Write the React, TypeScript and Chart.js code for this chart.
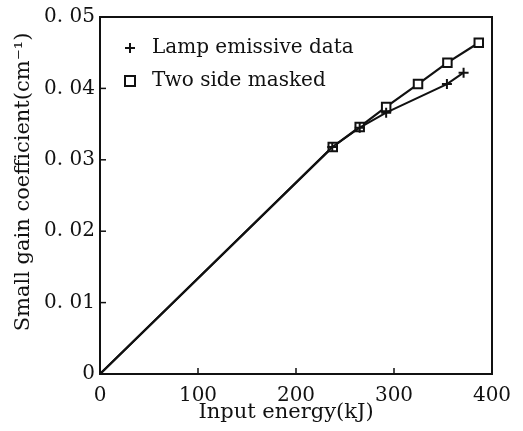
import React, { useEffect, useRef } from "react";
import { Chart, registerables } from "chart.js";

Chart.register(...registerables);

const lampX = [0, 237, 265, 292, 354, 371];
const lampY = [0, 0.0318, 0.0345, 0.0366, 0.0406, 0.0422];
const maskedX = [0, 237.5, 265, 292, 324.5, 354.5, 386.5];
const maskedY = [0, 0.0318, 0.0346, 0.0374, 0.0406, 0.0436, 0.0464];

const xTicks = [0, 100, 200, 300, 400];
const yTicks = [0, 0.01, 0.02, 0.03, 0.04, 0.05];

const legendLabels = ["Lamp emissive data", "Two side masked"];
const xTitle = "Input energy(kJ)";
const yTitle = "Small gain coefficient(cm\u207B\u00B9)";

const FONT = "'DejaVu Serif', serif";

const decorPlugin = {
  id: "decor",
  afterDraw(chart: any) {
    const { ctx, chartArea } = chart;
    const xs = chart.scales.x;
    const ys = chart.scales.y;
    ctx.save();
    ctx.strokeStyle = "#111";
    ctx.lineWidth = 2;
    ctx.strokeRect(chartArea.left, chartArea.top, chartArea.right - chartArea.left, chartArea.bottom - chartArea.top);
    ctx.lineWidth = 1.5;
    xTicks.forEach((v) => {
      const px = xs.getPixelForValue(v);
      ctx.beginPath();
      ctx.moveTo(px, chartArea.bottom);
      ctx.lineTo(px, chartArea.bottom - 6);
      ctx.stroke();
    });
    yTicks.forEach((v) => {
      const py = ys.getPixelForValue(v);
      ctx.beginPath();
      ctx.moveTo(chartArea.left, py);
      ctx.lineTo(chartArea.left + 6, py);
      ctx.stroke();
    });
    // legend
    const lx = chartArea.left + 30;
    const ly1 = chartArea.top + 31;
    const ly2 = chartArea.top + 64;
    ctx.lineWidth = 2;
    ctx.beginPath();
    ctx.moveTo(lx - 5, ly1);
    ctx.lineTo(lx + 5, ly1);
    ctx.moveTo(lx, ly1 - 5);
    ctx.lineTo(lx, ly1 + 5);
    ctx.stroke();
    ctx.strokeRect(lx - 5, ly2 - 5, 10, 10);
    ctx.fillStyle = "#111";
    ctx.font = `20px ${FONT}`;
    ctx.textAlign = "left";
    ctx.textBaseline = "middle";
    ctx.fillText(legendLabels[0], lx + 22, ly1);
    ctx.fillText(legendLabels[1], lx + 22, ly2);
    // titles
    ctx.font = `21px ${FONT}`;
    ctx.textAlign = "center";
    ctx.fillText(xTitle, chartArea.left + 186, chartArea.bottom + 39);
    ctx.translate(chartArea.left - 76, chartArea.top + 165);
    ctx.rotate(-Math.PI / 2);
    ctx.fillText(yTitle, 0, 0);
    ctx.restore();
  },
};

export default function App() {
  const ref = useRef<HTMLCanvasElement>(null);
  useEffect(() => {
    const chart = new Chart(ref.current!, {
      type: "scatter",
      data: {
        datasets: [
          {
            label: legendLabels[0],
            data: lampX.map((x, i) => ({ x, y: lampY[i] })),
            showLine: true,
            borderColor: "#111",
            borderWidth: 2,
            pointStyle: "cross",
            pointRadius: lampX.map((x) => (x === 0 ? 0 : 5)),
            pointBorderWidth: 2,
            pointBorderColor: "#111",
          },
          {
            label: legendLabels[1],
            data: maskedX.map((x, i) => ({ x, y: maskedY[i] })),
            showLine: true,
            borderColor: "#111",
            borderWidth: 2.2,
            pointStyle: "rect",
            pointRadius: maskedX.map((x) => (x === 0 ? 0 : 6)),
            pointBorderWidth: 2,
            pointBorderColor: "#111",
            pointBackgroundColor: "#fff",
          },
        ],
      },
      options: {
        animation: false,
        responsive: true,
        maintainAspectRatio: false,
        layout: { padding: { top: 16, right: 31, left: 0, bottom: 0 } },
        plugins: { legend: { display: false }, tooltip: { enabled: false } },
        scales: {
          x: {
            type: "linear",
            min: 0,
            max: 400,
            afterBuildTicks: (s: any) => {
              s.ticks = xTicks.map((v) => ({ value: v }));
            },
            afterFit: (s: any) => {
              s.height = 57;
            },
            grid: { display: false, drawTicks: false },
            border: { display: false },
            ticks: {
              color: "#111",
              font: { family: FONT, size: 20 },
              padding: 10,
              maxRotation: 0,
              callback: (v: any) => String(v),
            },
          },
          y: {
            type: "linear",
            min: 0,
            max: 0.05,
            afterBuildTicks: (s: any) => {
              s.ticks = yTicks.map((v) => ({ value: v }));
            },
            afterFit: (s: any) => {
              s.width = 100;
            },
            grid: { display: false, drawTicks: false },
            border: { display: false },
            ticks: {
              color: "#111",
              font: { family: FONT, size: 20 },
              padding: 5,
              callback: (v: any) => (v === 0 ? "0" : Number(v).toFixed(2).replace(".", ". ")),
            },
          },
        },
      },
      plugins: [decorPlugin],
    } as any);
    return () => chart.destroy();
  }, []);
  return (
    <div style={{ position: "fixed", left: 0, top: 0, width: 523, height: 431, background: "#fff" }}>
      <canvas ref={ref} />
    </div>
  );
}
